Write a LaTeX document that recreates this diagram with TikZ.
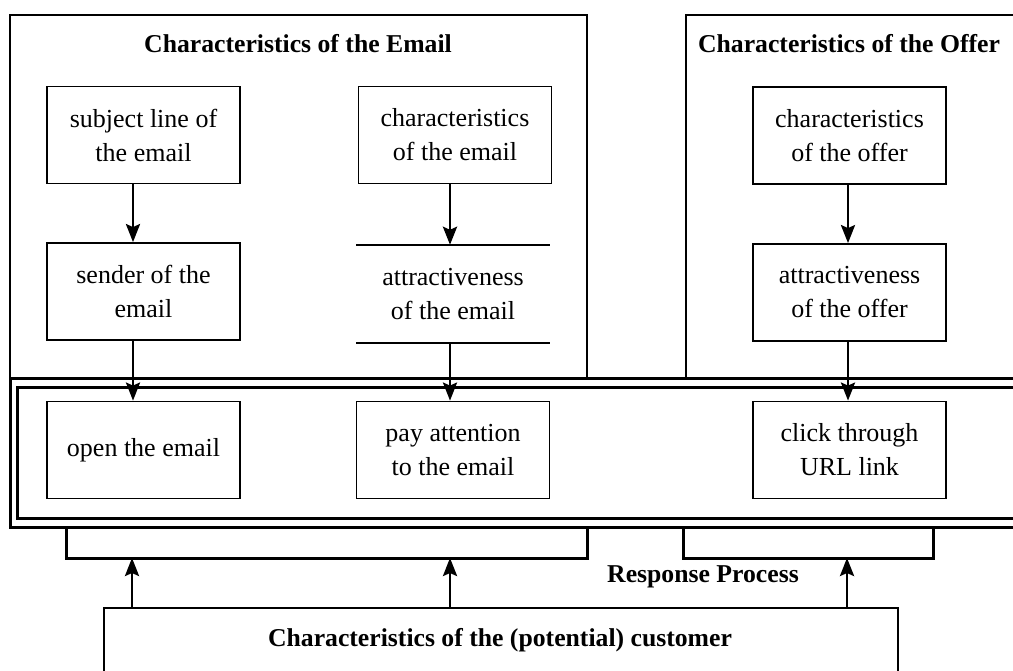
\documentclass[tikz,border=0pt]{standalone}
\usepackage{fontspec}
\setmainfont{Liberation Serif}
\usetikzlibrary{arrows.meta,calc}
\begin{document}
\begin{tikzpicture}[x=1pt,y=-1pt,
  frame/.style={draw,line width=2.6pt},
  inbox/.style={draw,line width=1.8pt,minimum width=193pt,minimum height=97pt,inner sep=0pt,align=center,font=\fontsize{26}{34}\selectfont},
  plain/.style={minimum width=193pt,minimum height=98pt,inner sep=0pt,align=center,font=\fontsize{26}{34}\selectfont},
  title/.style={font=\fontsize{25.7}{31}\selectfont\bfseries},
  arr/.style={line width=2.8pt,-{Stealth[length=18pt,width=14pt,inset=3pt]}},
  brk/.style={line width=3pt}]
\useasboundingbox (0,0) rectangle (1013,671);
\clip (0,0) rectangle (1013,671);
% frames
\draw[frame] (10,15) rectangle (587,378);
\draw[frame] (686,15) rectangle (1030,378);
\draw[frame,line width=3pt] (10,378) rectangle (1030,527);
\draw[frame,line width=3pt] (17,387) rectangle (1030,518);
\node[title] (temail) at (298,44) {Characteristics of the Email};
\node[title] (toffer) at (849,44) {Characteristics of the Offer};
% column coordinates
\coordinate (cA) at (133,0);
\coordinate (cB) at (450,0);
\coordinate (cC) at (848,0);
% email column 1
\node[inbox] (subj) at (143.5,135) {subject line of\\the email};
\node[inbox] (sender) at (143.5,291.5) {sender of the\\email};
\node[inbox] (open) at (143.5,450) {open the email};
% email column 2
\node[inbox] (chE) at (455,135) {characteristics\\of the email};
\node[plain] (attE) at (453,294) {attractiveness\\of the email};
\draw[line width=1.8pt] (attE.north west) -- (attE.north east);
\draw[line width=1.8pt] (attE.south west) -- (attE.south east);
\node[inbox] (pay) at (453,450) {pay attention\\to the email};
% offer column
\node[inbox] (chO) at (849.5,135.5) {characteristics\\of the offer};
\node[inbox] (attO) at (849.5,292.5) {attractiveness\\of the offer};
\node[inbox] (click) at (849.5,450) {click through\\URL link};
% arrows
\draw[arr] (subj.south -| cA) -- (sender.north -| cA);
\draw[arr] (sender.south -| cA) -- (open.north -| cA);
\draw[arr] (chE.south -| cB) -- (attE.north -| cB);
\draw[arr] (attE.south -| cB) -- (pay.north -| cB);
\draw[arr] (chO.south -| cC) -- (attO.north -| cC);
\draw[arr] (attO.south -| cC) -- (click.north -| cC);
% brackets
\coordinate (bl1) at (66,527);
\coordinate (bl2) at (66,558);
\coordinate (bl3) at (587,558);
\coordinate (bl4) at (587,527);
\coordinate (br1) at (683,527);
\coordinate (br2) at (683,558);
\coordinate (br3) at (933,558);
\coordinate (br4) at (933,527);
\draw[brk] (bl1) -- (bl2) -- (bl3) -- (bl4);
\draw[brk] (br1) -- (br2) -- (br3) -- (br4);
\node[title] (resp) at (703,577) {Response Process};
% customer
\node[draw,line width=1.8pt,minimum width=794pt,minimum height=120pt,anchor=north west,inner sep=0pt] (cust) at (103,607) {};
\node[title] (custt) at (500,640) {Characteristics of the (potential) customer};
\draw[arr] (cust.north -| 132,0) -- (bl2 -| 132,0);
\draw[arr] (cust.north -| cB) -- (bl2 -| cB);
\draw[arr] (cust.north -| 847,0) -- (br2 -| 847,0);
\end{tikzpicture}
\end{document}
